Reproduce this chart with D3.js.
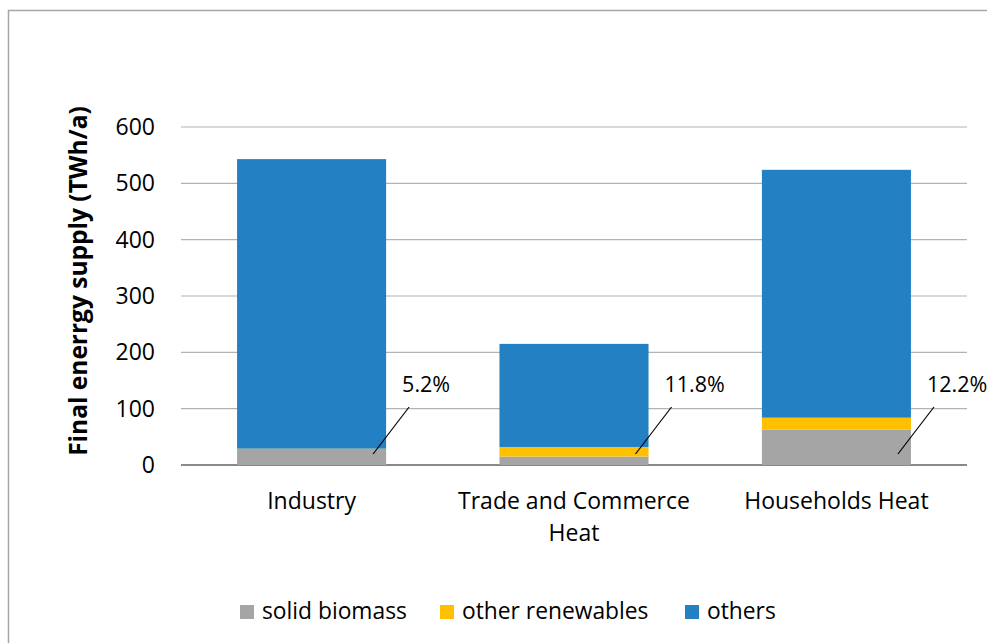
<!DOCTYPE html>
<html>
<head>
<meta charset="utf-8">
<script src="https://cdn.jsdelivr.net/npm/d3@7"></script>
<style>
  body { margin: 0; background: #fff; }
  text { font-family: "Open Sans", Lato, sans-serif; fill: #000; }
</style>
</head>
<body>
<div id="chart"></div>
<script>
// data (TWh/a)
var categories = ["Industry", "Trade and Commerce Heat", "Households Heat"];
var categoryLines = [["Industry"], ["Trade and Commerce", "Heat"], ["Households Heat"]];
var solidBiomass = [28.5, 15, 63];
var otherRenewables = [0.5, 17, 21];
var others = [514, 183, 440];
var shareLabels = ["5.2%", "11.8%", "12.2%"];
var seriesNames = ["solid biomass", "other renewables", "others"];
var seriesColors = ["#a5a5a5", "#ffc000", "#2381c3"];
var yTicks = [0, 100, 200, 300, 400, 500, 600];

var svgWidth = 987;
var svgHeight = 643;

var margin = { top: 127, right: 22, bottom: 178, left: 183 };
var width = svgWidth - margin.left - margin.right;
var height = svgHeight - margin.top - margin.bottom;

var svg = d3.select("#chart")
  .append("svg")
  .attr("width", svgWidth)
  .attr("height", svgHeight);

// chart area border
svg.append("rect")
  .attr("x", 8.5)
  .attr("y", 10.5)
  .attr("width", 1000)
  .attr("height", 700)
  .attr("fill", "none")
  .attr("stroke", "#a6a6a6")
  .attr("stroke-width", 1.5);

var chartGroup = svg.append("g")
  .attr("transform", `translate(${margin.left}, ${margin.top})`);

// build table for the stack
var table = categories.map(function(c, i) {
  return { cat: c, "solid biomass": solidBiomass[i], "other renewables": otherRenewables[i], "others": others[i] };
});
var stacked = d3.stack().keys(seriesNames)(table);

var xScale = d3.scaleBand()
  .domain(categories)
  .range([0, width])
  .paddingInner(0.432)
  .paddingOuter(0.206);

var yScale = d3.scaleLinear()
  .domain([0, 600])
  .range([height, 0]);

// gridlines
chartGroup.append("g")
  .selectAll("line")
  .data(yTicks)
  .enter()
  .append("line")
  .attr("x1", -2)
  .attr("x2", width + 2)
  .attr("y1", d => yScale(d))
  .attr("y2", d => yScale(d))
  .attr("stroke", d => d === 0 ? "#898989" : "#b3b3b3")
  .attr("stroke-width", d => d === 0 ? 2 : 1.2);

// y axis labels
var leftAxis = d3.axisLeft(yScale).tickValues(yTicks).tickSize(0).tickPadding(28);
var yAxis = chartGroup.append("g").call(leftAxis);
yAxis.select(".domain").remove();
yAxis.selectAll("text")
  .attr("font-size", "23px")
  .style("font-family", "'Open Sans', Lato, sans-serif");

// bars
chartGroup.selectAll(".layer")
  .data(stacked)
  .enter()
  .append("g")
  .attr("fill", (d, i) => seriesColors[i])
  .selectAll("rect")
  .data(d => d)
  .enter()
  .append("rect")
  .attr("x", d => xScale(d.data.cat))
  .attr("y", d => yScale(d[1]))
  .attr("width", xScale.bandwidth())
  .attr("height", d => yScale(d[0]) - yScale(d[1]));

// leader lines + share labels
var labelGroup = chartGroup.selectAll(".share")
  .data(categories)
  .enter()
  .append("g");

labelGroup.append("line")
  .attr("x1", d => xScale(d) + xScale.bandwidth() - 13)
  .attr("y1", yScale(0) - 11)
  .attr("x2", d => xScale(d) + xScale.bandwidth() + 23)
  .attr("y2", yScale(0) - 58)
  .attr("stroke", "#000")
  .attr("stroke-width", 1.2);

labelGroup.append("text")
  .attr("x", d => xScale(d) + xScale.bandwidth() + 16)
  .attr("y", yScale(0) - 73)
  .attr("font-size", "21.5px")
  .text((d, i) => shareLabels[i]);

// category labels
var catLabels = chartGroup.selectAll(".cat")
  .data(categories)
  .enter()
  .append("text")
  .attr("text-anchor", "middle")
  .attr("font-size", "23px")
  .attr("x", d => xScale(d) + xScale.bandwidth() / 2)
  .attr("y", height + 44);

catLabels.selectAll("tspan")
  .data((d, i) => categoryLines[i])
  .enter()
  .append("tspan")
  .attr("x", function() { return d3.select(this.parentNode).attr("x"); })
  .attr("dy", (d, j) => j === 0 ? 0 : 32)
  .text(d => d);

// y axis title
svg.append("text")
  .attr("transform", "translate(87, 281) rotate(-90)")
  .attr("text-anchor", "middle")
  .attr("font-size", "24.5px")
  .attr("font-weight", "bold")
  .text("Final enerrgy supply (TWh/a)");

// legend
var legendX = [240, 440, 685];
var legend = svg.selectAll(".legend")
  .data(seriesNames)
  .enter()
  .append("g")
  .attr("transform", (d, i) => `translate(${legendX[i]}, 605)`);

legend.append("rect")
  .attr("width", 14)
  .attr("height", 14)
  .attr("fill", (d, i) => seriesColors[i]);

legend.append("text")
  .attr("x", 22)
  .attr("y", 14)
  .attr("font-size", "22.8px")
  .text(d => d);
</script>
</body>
</html>
